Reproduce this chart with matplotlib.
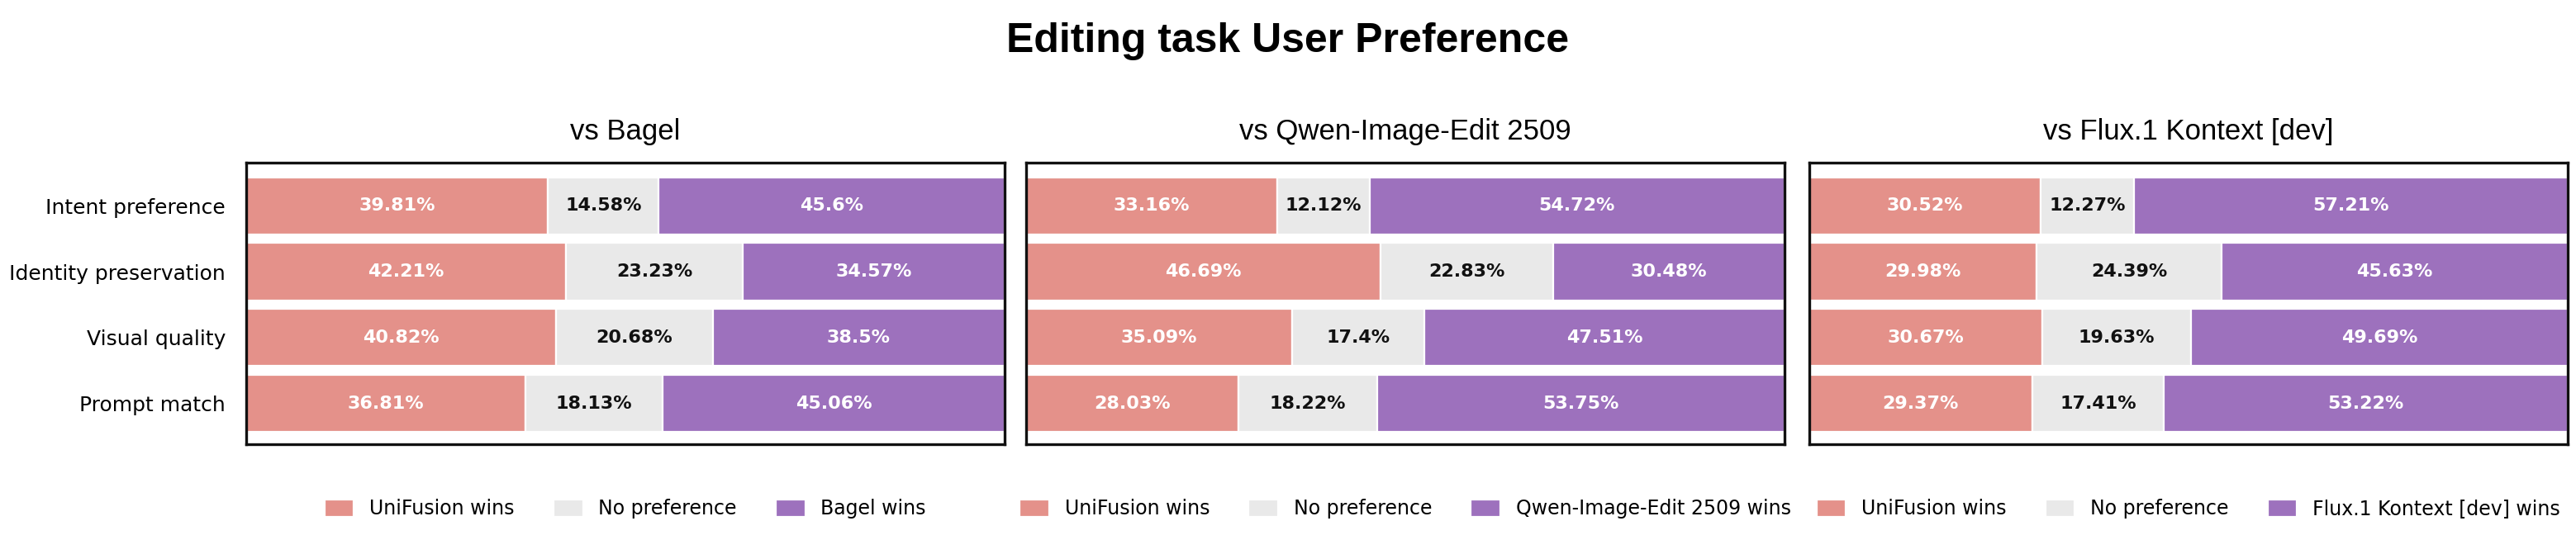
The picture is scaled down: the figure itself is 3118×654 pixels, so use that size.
import numpy as np
import matplotlib.pyplot as plt

# =============================================
#                    DATOS
# =============================================

criteria = ['Intent preference', 'Identity preservation', 'Visual quality', 'Prompt match']
opponents = ['Bagel', 'Qwen-Image-Edit 2509', 'Flux.1 Kontext [dev]']

bagel_unifusion = [39.81, 42.21, 40.82, 36.81]
bagel_tie = [14.58, 23.23, 20.68, 18.13]
bagel_other = [45.6, 34.57, 38.5, 45.06]

qwen_unifusion = [33.16, 46.69, 35.09, 28.03]
qwen_tie = [12.12, 22.83, 17.4, 18.22]
qwen_other = [54.72, 30.48, 47.51, 53.75]

flux_unifusion = [30.52, 29.98, 30.67, 29.37]
flux_tie = [12.27, 24.39, 19.63, 17.41]
flux_other = [57.21, 45.63, 49.69, 53.22]

results = [
    (bagel_unifusion, bagel_tie, bagel_other),
    (qwen_unifusion, qwen_tie, qwen_other),
    (flux_unifusion, flux_tie, flux_other),
]

# =============================================
#                   ESTILO
# =============================================

c_win = '#E4918A'
c_tie = '#E9E9E9'
c_lose = '#9D71BD'
title_font = ['Liberation Sans', 'DejaVu Sans']

W, H = 3118, 654
fig = plt.figure(figsize=(W / 200, H / 200), dpi=200)

lefts = [298, 1242, 2190]
ax_w = 918
ax_top, ax_bot = 197, 538

y = np.arange(len(criteria))
bar_h = 0.87

for k, (opp, (win, tie, lose)) in enumerate(zip(opponents, results)):
    ax = fig.add_axes([lefts[k] / W, 1 - ax_bot / H, ax_w / W, (ax_bot - ax_top) / H])
    win = np.array(win)
    tie = np.array(tie)
    lose = np.array(lose)

    b1 = ax.barh(y, win, height=bar_h, color=c_win, edgecolor='white', linewidth=0.8,
                 label='UniFusion wins')
    b2 = ax.barh(y, tie, left=win, height=bar_h, color=c_tie, edgecolor='white', linewidth=0.8,
                 label='No preference')
    b3 = ax.barh(y, lose, left=win + tie, height=bar_h, color=c_lose, edgecolor='white',
                 linewidth=0.8, label=f'{opp} wins')

    ax.bar_label(b1, labels=[f'{v}%' for v in win], label_type='center',
                 color='white', fontsize=8, fontweight='bold')
    ax.bar_label(b2, labels=[f'{v}%' for v in tie], label_type='center',
                 color='#111111', fontsize=8, fontweight='bold')
    ax.bar_label(b3, labels=[f'{v}%' for v in lose], label_type='center',
                 color='white', fontsize=8, fontweight='bold')

    ax.set_xlim(0, 100)
    ax.set_ylim(3.62, -0.655)
    ax.set_xticks([])
    ax.set_yticks(y)
    if k == 0:
        ax.set_yticklabels(criteria, fontsize=9)
    else:
        ax.set_yticklabels([])
    ax.tick_params(axis='y', length=0, pad=9)
    for s in ax.spines.values():
        s.set_linewidth(1.2)
        s.set_color('#111111')

    ax.set_title(f'vs {opp}', fontsize=12.5, family=title_font, pad=10)
    ax.legend(loc='center', bbox_to_anchor=(0.5, -0.23), ncol=3, frameon=False,
              fontsize=8.5, handlelength=1.5, handleheight=1.0, columnspacing=2.0)

fig.text(0.5, 1 - 63 / H, 'Editing task User Preference', ha='center', va='baseline',
         fontsize=18, fontweight='bold', family=title_font)

fig.savefig('out.png', dpi=200)
